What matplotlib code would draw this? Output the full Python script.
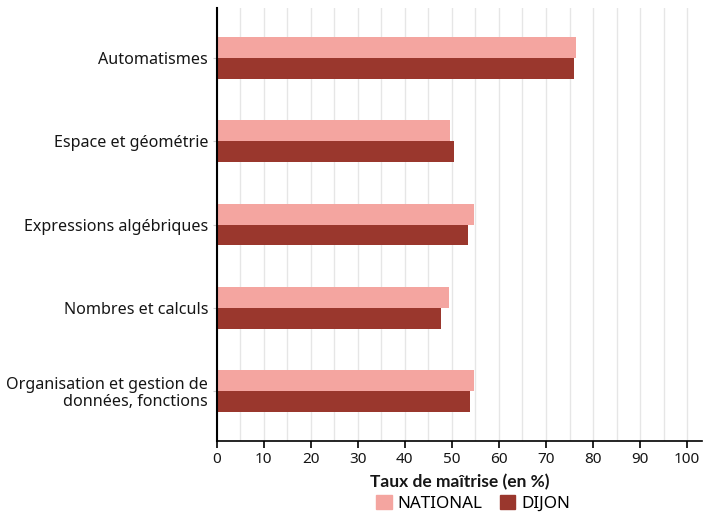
import matplotlib.pyplot as plt
import numpy as np
from matplotlib.patches import Patch

plt.rcParams['font.family'] = ['Noto Sans', 'DejaVu Sans']

# Data
categories = ['Automatismes', 'Espace et géométrie', 'Expressions algébriques',
              'Nombres et calculs', 'Organisation et gestion de\ndonnées, fonctions']
national = [76.4, 49.6, 54.7, 49.4, 54.7]
dijon = [76.0, 50.5, 53.5, 47.7, 53.9]
series_names = ['NATIONAL', 'DIJON']
colors = ['#f4a5a0', '#9a372d']

fig = plt.figure(figsize=(7.03, 5.18), dpi=100)
ax = fig.add_axes([0.308, 0.1486, 0.691, 0.836])

y = np.arange(len(categories))
h = 0.25
ax.barh(y - h / 2, national, height=h, color=colors[0], zorder=3)
ax.barh(y + h / 2, dijon, height=h, color=colors[1], zorder=3)

ax.set_ylim(4.6, -0.6)
ax.set_xlim(0, 103.2)
ax.set_yticks(y)
ax.set_yticklabels(categories, fontsize=11.6, color='#161616', linespacing=1.05)
ax.set_xticks(np.arange(0, 101, 10))
ax.set_xticks(np.arange(0, 101, 5), minor=True)
ax.tick_params(axis='x', which='major', length=5, width=1.2, labelsize=11,
               labelcolor='#161616', pad=3)
ax.tick_params(axis='x', which='minor', length=0)
ax.tick_params(axis='y', length=3, color='#cccccc', pad=3)
ax.grid(axis='x', which='both', color='#e6e6e6', linewidth=1, zorder=0)

for s in ['top', 'right']:
    ax.spines[s].set_visible(False)
ax.spines['left'].set_linewidth(1.5)
ax.spines['bottom'].set_linewidth(1.2)
ax.spines['left'].set_zorder(4)

ax.set_xlabel('Taux de maîtrise (en %)', fontsize=12.5, fontweight='bold',
              family=['Lato', 'DejaVu Sans'], color='#161616', labelpad=5)

handles = [Patch(color=c) for c in colors]
fig.legend(handles, series_names, loc='center', bbox_to_anchor=(0.673, 0.028),
           ncol=2, frameon=False, fontsize=12.3, handlelength=0.9, handleheight=0.9,
           handletextpad=0.35, columnspacing=1.0, borderpad=0)

fig.savefig('out.png', dpi=100)
